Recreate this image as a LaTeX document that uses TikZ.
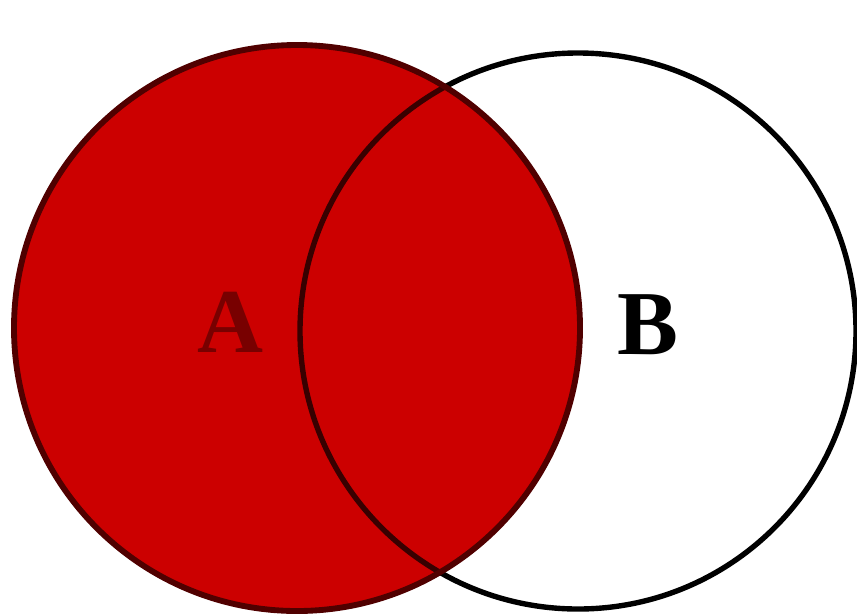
\documentclass[tikz,border=0pt]{standalone}
\usepackage{fontspec}
\setmainfont{Liberation Serif}
\usepackage{tikz}
\usetikzlibrary{backgrounds}

\definecolor{setred}{RGB}{204,0,0}
\definecolor{setrim}{RGB}{80,0,0}
\definecolor{setlbl}{RGB}{120,0,0}

\begin{document}
\begin{tikzpicture}[
  x=0.3mm, y=-0.3mm,
  setA/.style={fill=setred, draw=setrim, line width=5pt},
  setB/.style={draw=black, line width=4.6pt},
  lbl/.style={font=\fontsize{78}{80}\selectfont\bfseries},
]
\useasboundingbox[fill=white] (0,0) rectangle (857,614);

% ---------- Set centres ----------
\coordinate (cA) at (297,328);
\coordinate (cB) at (578,331);

% ---------- Circles ----------
\draw[setB] (cB) circle[radius=8.34cm];
\fill[setred] (cA) circle[radius=8.49cm];
\begin{scope}
  \clip (cA) circle[radius=8.49cm];
  \draw[setB, draw=setrim!70!black] (cB) circle[radius=8.34cm];
\end{scope}
\draw[setA, fill=none] (cA) circle[radius=8.49cm];

% ---------- Labels ----------
\node[lbl, text=setlbl] (labA) at (230,322) {A};
\node[lbl] (labB) at (648,325) {B};

\end{tikzpicture}
\end{document}
